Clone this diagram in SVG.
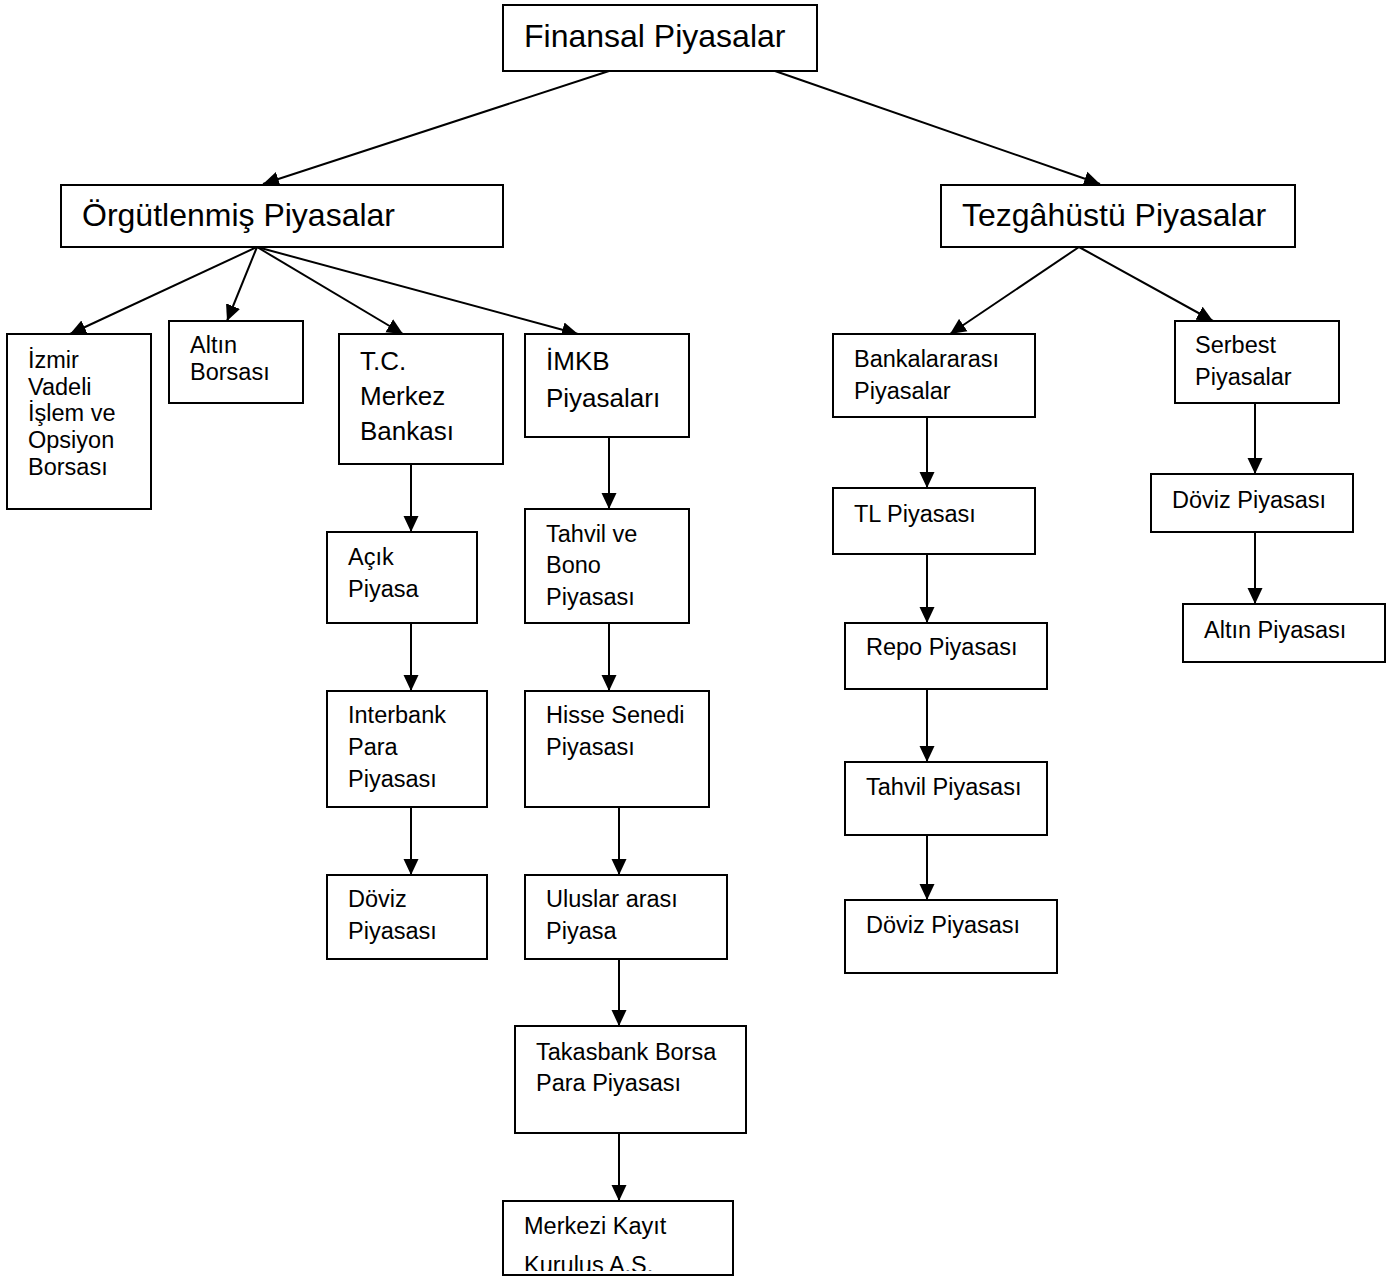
<svg xmlns="http://www.w3.org/2000/svg" width="1397" height="1277" viewBox="0 0 1397 1277">
<style>
.box{fill:#fff;stroke:#000;stroke-width:2}
.t{font-family:"Liberation Sans",Arial,sans-serif;fill:#000;font-size:23.5px}
.m{font-size:26px}
.l{font-size:32px}
.c line{stroke:#000;stroke-width:2;marker-end:url(#ah)}
</style>
<defs>
<marker id="ah" markerUnits="userSpaceOnUse" markerWidth="17" markerHeight="16" refX="16" refY="8" orient="auto">
<path d="M0,0.5 L16,8 L0,15.5 z" fill="#000"/>
</marker>
<clipPath id="mkclip"><rect x="503" y="1201" width="230" height="70"/></clipPath>
</defs>
<rect width="1397" height="1277" fill="#fff"/>
<g id="connectors" class="c">
<line x1="609" y1="71" x2="263" y2="184"/>
<line x1="775" y1="71" x2="1100" y2="184"/>
<line x1="257" y1="247" x2="70" y2="334"/>
<line x1="257" y1="247" x2="227" y2="321"/>
<line x1="257" y1="247" x2="403" y2="334"/>
<line x1="257" y1="247" x2="578" y2="334"/>
<line x1="1079" y1="247" x2="950" y2="334"/>
<line x1="1079" y1="247" x2="1213" y2="321"/>
<line x1="411" y1="464" x2="411" y2="532"/>
<line x1="411" y1="623" x2="411" y2="691"/>
<line x1="411" y1="807" x2="411" y2="875"/>
<line x1="609" y1="437" x2="609" y2="509"/>
<line x1="609" y1="623" x2="609" y2="691"/>
<line x1="619" y1="807" x2="619" y2="875"/>
<line x1="619" y1="959" x2="619" y2="1026"/>
<line x1="619" y1="1133" x2="619" y2="1201"/>
<line x1="927" y1="417" x2="927" y2="488"/>
<line x1="927" y1="554" x2="927" y2="623"/>
<line x1="927" y1="689" x2="927" y2="762"/>
<line x1="927" y1="835" x2="927" y2="900"/>
<line x1="1255" y1="403" x2="1255" y2="474"/>
<line x1="1255" y1="532" x2="1255" y2="604"/>
</g>
<g id="finansal"><rect class="box" x="503" y="5" width="314" height="66"/><text class="t l" x="524" y="47">Finansal Piyasalar</text></g>
<g id="orgutlenmis"><rect class="box" x="61" y="185" width="442" height="62"/><text class="t l" x="82" y="226">Örgütlenmiş Piyasalar</text></g>
<g id="tezgahustu"><rect class="box" x="941" y="185" width="354" height="62"/><text class="t l" x="962" y="226">Tezgâhüstü Piyasalar</text></g>
<g id="izmir"><rect class="box" x="7" y="334" width="144" height="175"/><text class="t" x="28"><tspan x="28" y="368">İzmir</tspan><tspan x="28" y="394.7">Vadeli</tspan><tspan x="28" y="421.4">İşlem ve</tspan><tspan x="28" y="448">Opsiyon</tspan><tspan x="28" y="474.8">Borsası</tspan></text></g>
<g id="altin-borsasi"><rect class="box" x="169" y="321" width="134" height="82"/><text class="t" x="190"><tspan x="190" y="353">Altın</tspan><tspan x="190" y="380">Borsası</tspan></text></g>
<g id="tcmb"><rect class="box" x="339" y="334" width="164" height="130"/><text class="t m" x="360"><tspan x="360" y="370">T.C.</tspan><tspan x="360" y="405">Merkez</tspan><tspan x="360" y="440">Bankası</tspan></text></g>
<g id="imkb"><rect class="box" x="525" y="334" width="164" height="103"/><text class="t m" x="546"><tspan x="546" y="370">İMKB</tspan><tspan x="546" y="407">Piyasaları</tspan></text></g>
<g id="acik"><rect class="box" x="327" y="532" width="150" height="91"/><text class="t" x="348"><tspan x="348" y="565">Açık</tspan><tspan x="348" y="597">Piyasa</tspan></text></g>
<g id="interbank"><rect class="box" x="327" y="691" width="160" height="116"/><text class="t" x="348"><tspan x="348" y="723">Interbank</tspan><tspan x="348" y="755">Para</tspan><tspan x="348" y="787">Piyasası</tspan></text></g>
<g id="doviz-tcmb"><rect class="box" x="327" y="875" width="160" height="84"/><text class="t" x="348"><tspan x="348" y="907">Döviz</tspan><tspan x="348" y="939">Piyasası</tspan></text></g>
<g id="tahvil-bono"><rect class="box" x="525" y="509" width="164" height="114"/><text class="t" x="546"><tspan x="546" y="542">Tahvil ve</tspan><tspan x="546" y="573">Bono</tspan><tspan x="546" y="605">Piyasası</tspan></text></g>
<g id="hisse"><rect class="box" x="525" y="691" width="184" height="116"/><text class="t" x="546"><tspan x="546" y="723">Hisse Senedi</tspan><tspan x="546" y="755">Piyasası</tspan></text></g>
<g id="uluslararasi"><rect class="box" x="525" y="875" width="202" height="84"/><text class="t" x="546"><tspan x="546" y="907">Uluslar arası</tspan><tspan x="546" y="939">Piyasa</tspan></text></g>
<g id="takasbank"><rect class="box" x="515" y="1026" width="231" height="107"/><text class="t" x="536"><tspan x="536" y="1060">Takasbank Borsa</tspan><tspan x="536" y="1091">Para Piyasası</tspan></text></g>
<g id="mkk"><rect class="box" x="503" y="1201" width="230" height="74"/><text class="t" x="524" clip-path="url(#mkclip)"><tspan x="524" y="1234">Merkezi Kayıt</tspan><tspan x="524" y="1273">Kurulus A.S.</tspan></text></g>
<g id="bankalararasi"><rect class="box" x="833" y="334" width="202" height="83"/><text class="t" x="854"><tspan x="854" y="367">Bankalararası</tspan><tspan x="854" y="399">Piyasalar</tspan></text></g>
<g id="tl"><rect class="box" x="833" y="488" width="202" height="66"/><text class="t" x="854" y="522">TL Piyasası</text></g>
<g id="repo"><rect class="box" x="845" y="623" width="202" height="66"/><text class="t" x="866" y="655">Repo Piyasası</text></g>
<g id="tahvil"><rect class="box" x="845" y="762" width="202" height="73"/><text class="t" x="866" y="795">Tahvil Piyasası</text></g>
<g id="doviz-banka"><rect class="box" x="845" y="900" width="212" height="73"/><text class="t" x="866" y="933">Döviz Piyasası</text></g>
<g id="serbest"><rect class="box" x="1175" y="321" width="164" height="82"/><text class="t" x="1195"><tspan x="1195" y="353">Serbest</tspan><tspan x="1195" y="385">Piyasalar</tspan></text></g>
<g id="doviz-serbest"><rect class="box" x="1151" y="474" width="202" height="58"/><text class="t" x="1172" y="508">Döviz Piyasası</text></g>
<g id="altin-piyasasi"><rect class="box" x="1183" y="604" width="202" height="58"/><text class="t" x="1204" y="638">Altın Piyasası</text></g>
</svg>
